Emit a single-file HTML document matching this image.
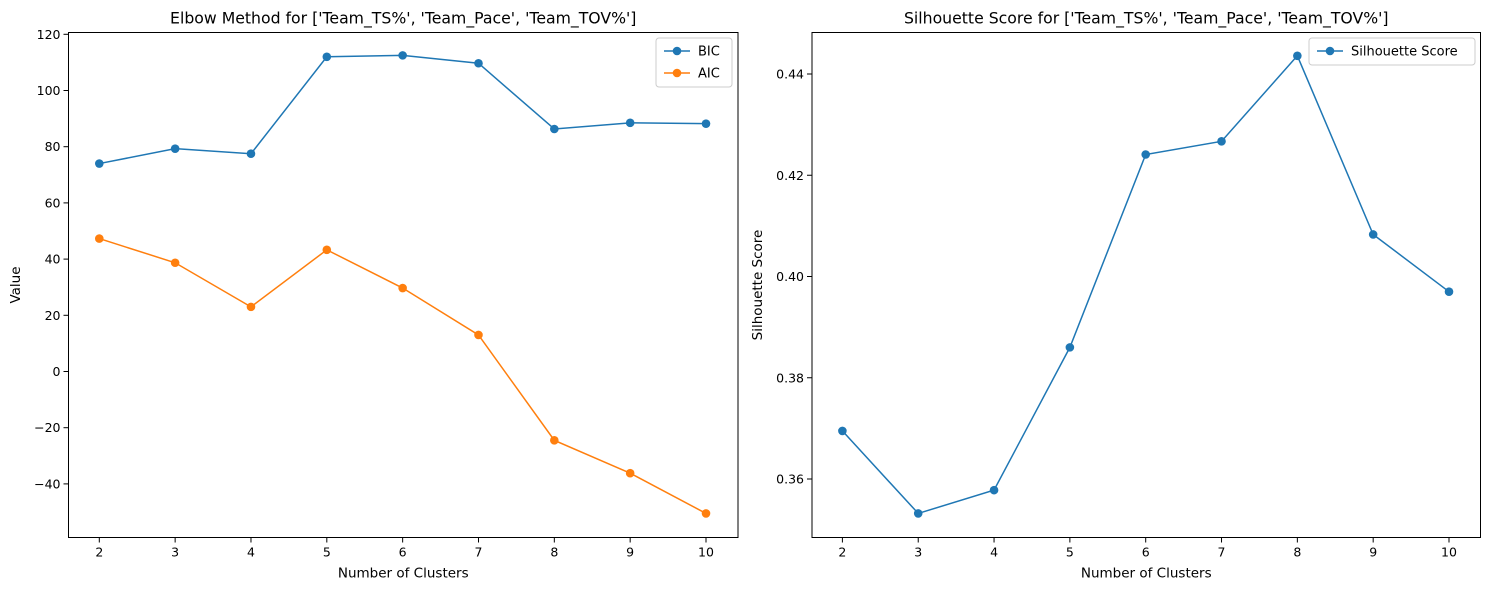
<!DOCTYPE html>
<html><head><meta charset="utf-8"><style>
body{margin:0;background:#fff;}
svg{display:block;font-family:"DejaVu Sans","Liberation Sans",sans-serif;}
</style></head><body>
<svg id="c" width="1489" height="590" xmlns="http://www.w3.org/2000/svg"></svg>
<script>
const clusters=[2,3,4,5,6,7,8,9,10];
const bicValues=[74,79.3,77.5,112,112.5,109.7,86.3,88.5,88.2];
const aicValues=[47.3,38.7,23,43.3,29.7,13,-24.5,-36.2,-50.5];
const silValues=[0.3695,0.3532,0.3578,0.386,0.4241,0.4267,0.4436,0.4083,0.397];
const leftYTicks=[-40,-20,0,20,40,60,80,100,120];
const rightYTicks=[0.36,0.38,0.40,0.42,0.44];
const rightYLabels=["0.36","0.38","0.40","0.42","0.44"];
const NS="http://www.w3.org/2000/svg";
const svg=document.getElementById('c');
function mk(t,a,p){const e=document.createElementNS(NS,t);for(const k in a)e.setAttribute(k,a[k]);(p||svg).appendChild(e);return e;}
function axes(name,L,R,T,B,xs,ys,yTicks,yLabels,title,ylab,ylabX){
  const g=mk('g',{});
  
  
  const r=mk('rect',{x:L,y:T,width:R-L,height:B-T,fill:'none',stroke:'#000','stroke-width':1},g);
  
  
  clusters.forEach(c=>{const x=xs(c);mk('line',{x1:x,x2:x,y1:B,y2:B+5,stroke:'#000'},g);
    const t=mk('text',{x:x,y:B+19,'text-anchor':'middle','font-size':12.5},g);t.textContent=c;
    });
  yTicks.forEach((v,i)=>{const y=ys(v);mk('line',{x1:L-5,x2:L,y1:y,y2:y,stroke:'#000'},g);
    const t=mk('text',{x:L-8,y:y+4.5,'text-anchor':'end','font-size':12.5},g);t.textContent=yLabels[i];
    });
  const tt=mk('text',{x:(L+R)/2,y:T-9,'text-anchor':'middle','font-size':15.7},g);tt.textContent=title;
  
  const xl=mk('text',{x:(L+R)/2,y:B+40,'text-anchor':'middle','font-size':13.5},g);xl.textContent='Number of Clusters';
  
  const yl=mk('text',{x:ylabX,y:(T+B)/2,'text-anchor':'middle','font-size':13.5,transform:`rotate(-90 ${ylabX} ${(T+B)/2})`},g);yl.textContent=ylab;
  
  return g;
}
function series(g,name,vals,xs,ys,color){
  const s=mk('g',{},g);
  
  
  mk('polyline',{points:vals.map((v,i)=>xs(clusters[i])+','+ys(v)).join(' '),fill:'none',stroke:color,'stroke-width':1.5},s);
  vals.forEach((v,i)=>{const c=mk('circle',{cx:xs(clusters[i]),cy:ys(v),r:4.3,fill:color},s);
    });
}
function legend(g,x,y,w,items){
  const lg=mk('g',{},g);
  
  
  mk('rect',{x:x,y:y,width:w,height:items.length*22+5,rx:3,fill:'#fff',stroke:'#ccc'},lg);
  items.forEach((it,i)=>{const cy=y+13+i*22;
    const e=mk('g',{},lg);
    
    
    mk('line',{x1:x+8,x2:x+34,y1:cy,y2:cy,stroke:it[1],'stroke-width':1.5},e);
    mk('circle',{cx:x+21,cy:cy,r:4.3,fill:it[1]},e);
    const t=mk('text',{x:x+42,y:cy+4.5,'font-size':13},e);t.textContent=it[0];});
}
// left chart
const L1=68.5,R1=738,T1=32.5,B1=537.5;
const xs1=c=>99.3+(c-2)*(706-99.3)/8;
const ys1=v=>371.5-v*(371.5-34.3)/120;
const g1=axes('elbow-chart',L1,R1,T1,B1,xs1,ys1,leftYTicks,leftYTicks.map(String).map(s=>s.replace('-','\u2212')),"Elbow Method for ['Team_TS%', 'Team_Pace', 'Team_TOV%']",'Value',20);
series(g1,'bic-series',bicValues,xs1,ys1,'#1f77b4');
series(g1,'aic-series',aicValues,xs1,ys1,'#ff7f0e');
legend(g1,656,38,76,[['BIC','#1f77b4'],['AIC','#ff7f0e']]);
// right chart
const L2=812,R2=1480.5,T2=32.5,B2=537.5;
const xs2=c=>842.4+(c-2)*(1449-842.4)/8;
const ys2=v=>74+(0.44-v)/0.02*101.25;
const g2=axes('silhouette-chart',L2,R2,T2,B2,xs2,ys2,rightYTicks,rightYLabels,"Silhouette Score for ['Team_TS%', 'Team_Pace', 'Team_TOV%']",'Silhouette Score',762);
series(g2,'silhouette-series',silValues,xs2,ys2,'#1f77b4');
legend(g2,1309,38,166,[['Silhouette Score','#1f77b4']]);
</script>
</body></html>
